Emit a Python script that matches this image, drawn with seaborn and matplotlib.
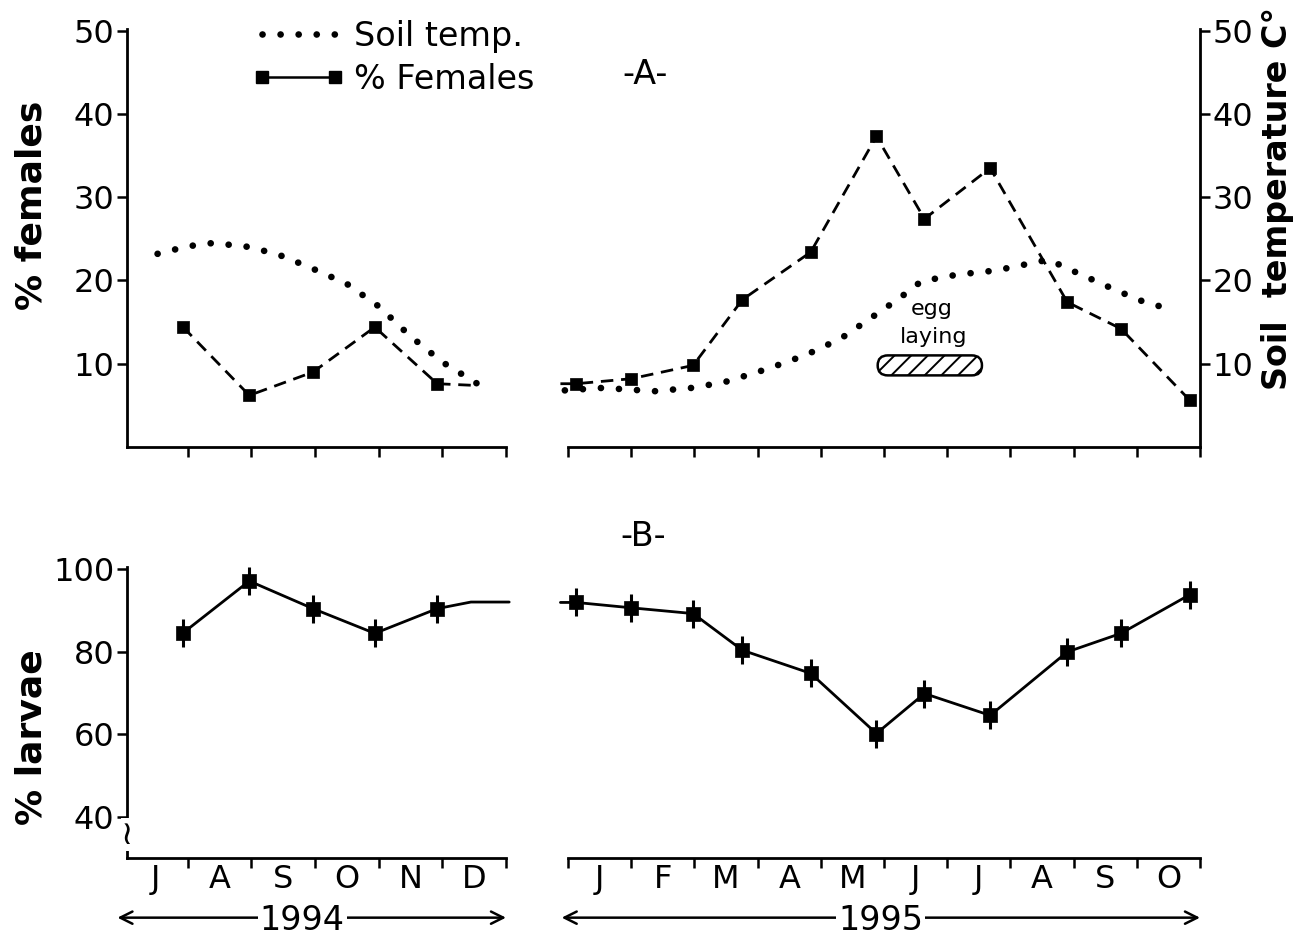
import matplotlib
matplotlib.use("Agg")
import matplotlib.pyplot as plt
import matplotlib.transforms as mtransforms
from matplotlib.lines import Line2D
from matplotlib.patches import FancyBboxPatch
import seaborn as sns

# ---------------- data ----------------
months_1994 = ["J", "A", "S", "O", "N", "D"]
months_1995 = ["J", "F", "M", "A", "M", "J", "J", "A", "S", "O"]

# sampling dates, in months from the start of each year segment
sample_x_1994 = [0.93, 1.97, 2.97, 3.94, 4.92]
sample_x_1995 = [0.13, 1.00, 1.98, 2.76, 3.84, 4.88, 5.64, 6.68, 7.90, 8.75, 9.84]

females_1994 = [14.4, 6.2, 9.0, 14.4, 7.6]
females_1995 = [7.6, 8.2, 9.8, 17.7, 23.4, 37.3, 27.4, 33.5, 17.4, 14.2, 5.6]

larvae_1994 = [84.6, 97.2, 90.5, 84.5, 90.5]
larvae_1995 = [92.0, 90.7, 89.3, 80.4, 74.8, 60.2, 69.9, 64.6, 80.0, 84.5, 93.9]

# free line ends drawn beyond the sampled points
females_1994_tail_x = [5.50]
females_1994_tail_y = [7.4]
females_1995_lead_x = [-0.12]
females_1995_lead_y = [7.6]
larvae_1994_tail_x = [5.45, 6.05]
larvae_1994_tail_y = [92.1, 92.1]
larvae_1995_lead_x = [-0.12]
larvae_1995_lead_y = [92.0]

soil_x_1994 = [0.53, 1.0, 1.4, 2.0, 2.5, 3.0, 3.5, 4.0, 4.5, 5.0, 5.55]
soil_1994 = [23.2, 24.1, 24.5, 24.0, 22.9, 21.3, 19.6, 16.9, 13.3, 10.2, 7.6]
soil_x_1995 = [-0.05, 0.55, 1.37, 1.96, 2.48, 3.0, 3.5, 3.96, 4.37, 4.89,
               5.25, 5.59, 6.16, 6.77, 7.22, 7.6, 8.09, 8.71, 9.09, 9.5]
soil_1995 = [6.8, 7.1, 6.7, 7.1, 7.8, 9.0, 10.3, 11.7, 13.3, 16.0,
             17.9, 19.9, 20.7, 21.2, 21.9, 22.5, 20.8, 18.7, 17.5, 16.6]

egg_laying_months = [4.90, 6.55]
egg_laying_level = 9.8

yticks_A = [10, 20, 30, 40, 50]
yticks_B = [40, 60, 80, 100]
years = ["1994", "1995"]

# ---------------- style ----------------
sns.set_theme(style="ticks")
plt.rcParams["font.family"] = ["DejaVu Sans"]
for key in ("text.color", "axes.labelcolor", "xtick.color", "ytick.color",
            "axes.edgecolor"):
    plt.rcParams[key] = "black"
plt.rcParams["hatch.linewidth"] = 1.4
plt.rcParams["axes.linewidth"] = 2.0

W, H = 1299, 941
fig = plt.figure(figsize=(W / 100, H / 100), dpi=100)
fig.patch.set_facecolor("white")


def rect(l, r, top, bottom):
    return [l / W, 1 - bottom / H, (r - l) / W, (bottom - top) / H]


axA1 = fig.add_axes(rect(127, 506, 29, 447))
axA2 = fig.add_axes(rect(568, 1200, 29, 447))
axB1 = fig.add_axes(rect(127, 506, 567, 858))
axB2 = fig.add_axes(rect(568, 1200, 567, 858))

DASH = (0, (4.5, 2.8))
DOT = (0, (0.01, 2.7))


def line(ax, x, y, **kw):
    sns.lineplot(x=x, y=y, ax=ax, color="black", estimator=None, sort=False,
                 clip_on=False, legend=False, **kw)


def dotted(ax, x, y):
    line(ax, x, y, lw=4.8, linestyle=DOT, dash_capstyle="round")


def squares(ax, x, y):
    sns.scatterplot(x=x, y=y, ax=ax, marker="s", s=80, color="black",
                    edgecolor="black", linewidth=0.5, clip_on=False, legend=False, zorder=5)


def crosses(ax, x, y):
    sns.scatterplot(x=x, y=y, ax=ax, marker="|", s=420, color="black",
                    linewidth=2.2, clip_on=False, legend=False, zorder=5)
    sns.scatterplot(x=x, y=y, ax=ax, marker="s", s=95, color="black",
                    edgecolor="black", linewidth=0.5, clip_on=False, legend=False, zorder=6)


# Panel A 1994
dotted(axA1, soil_x_1994, soil_1994)
line(axA1, sample_x_1994 + females_1994_tail_x, females_1994 + females_1994_tail_y,
     lw=2.0, linestyle=DASH)
squares(axA1, sample_x_1994, females_1994)

# Panel A 1995
dotted(axA2, soil_x_1995, soil_1995)
line(axA2, females_1995_lead_x + sample_x_1995, females_1995_lead_y + females_1995,
     lw=2.0, linestyle=DASH)
squares(axA2, sample_x_1995, females_1995)

# egg laying marker
ex0, ex1 = egg_laying_months
eh = 2.4
egg = FancyBboxPatch((ex0, egg_laying_level - eh / 2), ex1 - ex0, eh,
                     boxstyle="round,pad=0,rounding_size=0.16", mutation_aspect=7.5,
                     facecolor="white", edgecolor="black", lw=1.8, hatch="//")
axA2.add_patch(egg)
axA2.text((ex0 + ex1) / 2 + 0.03, 16.6, "egg", ha="center", va="center", fontsize=16)
axA2.text((ex0 + ex1) / 2 + 0.06, 13.2, "laying", ha="center", va="center", fontsize=16)

# Panel B
line(axB1, sample_x_1994 + larvae_1994_tail_x, larvae_1994 + larvae_1994_tail_y, lw=2.0)
crosses(axB1, sample_x_1994, larvae_1994)
line(axB2, larvae_1995_lead_x + sample_x_1995, larvae_1995_lead_y + larvae_1995, lw=2.0)
crosses(axB2, sample_x_1995, larvae_1995)

# ---------------- axes ----------------
for ax in (axA1, axA2):
    ax.set_ylim(0, 50.2)
for ax in (axB1, axB2):
    ax.set_ylim(30, 100.6)
for ax in (axA1, axB1):
    ax.set_xlim(0.05, 6.0)
for ax in (axA2, axB2):
    ax.set_xlim(0, 10)

for ax in (axA1, axA2, axB1, axB2):
    ax.set_facecolor("white")
    ax.set_xlabel("")
    ax.set_ylabel("")
    for s in ax.spines.values():
        s.set_visible(False)
        s.set_linewidth(2.0)
    ax.spines["bottom"].set_visible(True)
    ax.tick_params(axis="both", which="major", direction="out", length=7, width=1.8,
                   color="black", labelsize=23, labelcolor="black", pad=2)

axA1.spines["left"].set_visible(True)
axB1.spines["left"].set_visible(True)
axA2.spines["right"].set_visible(True)

axA1.set_yticks(yticks_A)
axA2.set_yticks(yticks_A)
axA2.yaxis.tick_right()
axA2.tick_params(axis="y", left=False, labelleft=False, right=True, labelright=True)
axB1.set_yticks(yticks_B)
axB2.set_yticks([])
axB2.tick_params(axis="y", left=False, labelleft=False)

for ax, months in ((axA1, months_1994), (axB1, months_1994),
                   (axA2, months_1995), (axB2, months_1995)):
    n = len(months)
    start = 1 if n == 6 else 0
    ax.set_xticks(list(range(start, n + 1)))
    ax.set_xticklabels([])
    ax.set_xticks([i + 0.5 for i in range(n)], minor=True)
    if ax in (axB1, axB2):
        ax.set_xticklabels(months, minor=True)
    ax.tick_params(axis="x", which="minor", length=0, labelsize=23, pad=4)

# axis break on the larvae axis
axB1.text(0.05, 35.6, "\u2240", ha="center", va="center", fontsize=24,
          clip_on=False, bbox=dict(facecolor="white", edgecolor="none", pad=0.0), zorder=7)

# year arrows
for ax, n, label in ((axB1, 6, years[0]), (axB2, 10, years[1])):
    tr = mtransforms.blended_transform_factory(ax.transData, ax.transAxes)
    x0 = -0.1
    ax.annotate("", xy=(n, -0.205), xytext=(x0, -0.205), xycoords=tr, textcoords=tr,
                arrowprops=dict(arrowstyle="<->", lw=1.8, color="black", mutation_scale=22,
                                shrinkA=0, shrinkB=0),
                annotation_clip=False)
    ax.text(n / 2 - (0.2 if n == 6 else 0.05), -0.215, label, transform=tr, ha="center",
            va="center", fontsize=24, clip_on=False,
            bbox=dict(facecolor="white", edgecolor="none", pad=1.5))

# labels
fig.text(32 / W, 1 - 205 / H, "% females", rotation=90, ha="center", va="center",
         fontsize=26, fontweight="bold")
fig.text(32 / W, 1 - 737 / H, "% larvae", rotation=90, ha="center", va="center",
         fontsize=26, fontweight="bold")
fig.text(1277 / W, 1 - 198 / H, "Soil  temperature C\u00b0", rotation=90, ha="center",
         va="center", fontsize=24, fontweight="bold")
fig.text(645 / W, 1 - 75 / H, "-A-", ha="center", va="center", fontsize=24)
fig.text(643 / W, 1 - 537 / H, "-B-", ha="center", va="center", fontsize=24)

# legend
h_soil = Line2D([], [], color="black", lw=4.8, linestyle=DOT, dash_capstyle="round")
h_fem = Line2D([], [], color="black", lw=1.8, marker="s", markersize=8)
fig.legend([h_soil, h_fem], ["Soil temp.", "% Females"], loc="upper left",
           bbox_to_anchor=(252 / W, 1 - 20 / H), frameon=False,
           prop=dict(size=24), handlelength=2.8,
           handletextpad=0.25, labelspacing=0.3, numpoints=2, borderpad=0,
           borderaxespad=0)

fig.savefig("out.png", dpi=100, facecolor="white")
